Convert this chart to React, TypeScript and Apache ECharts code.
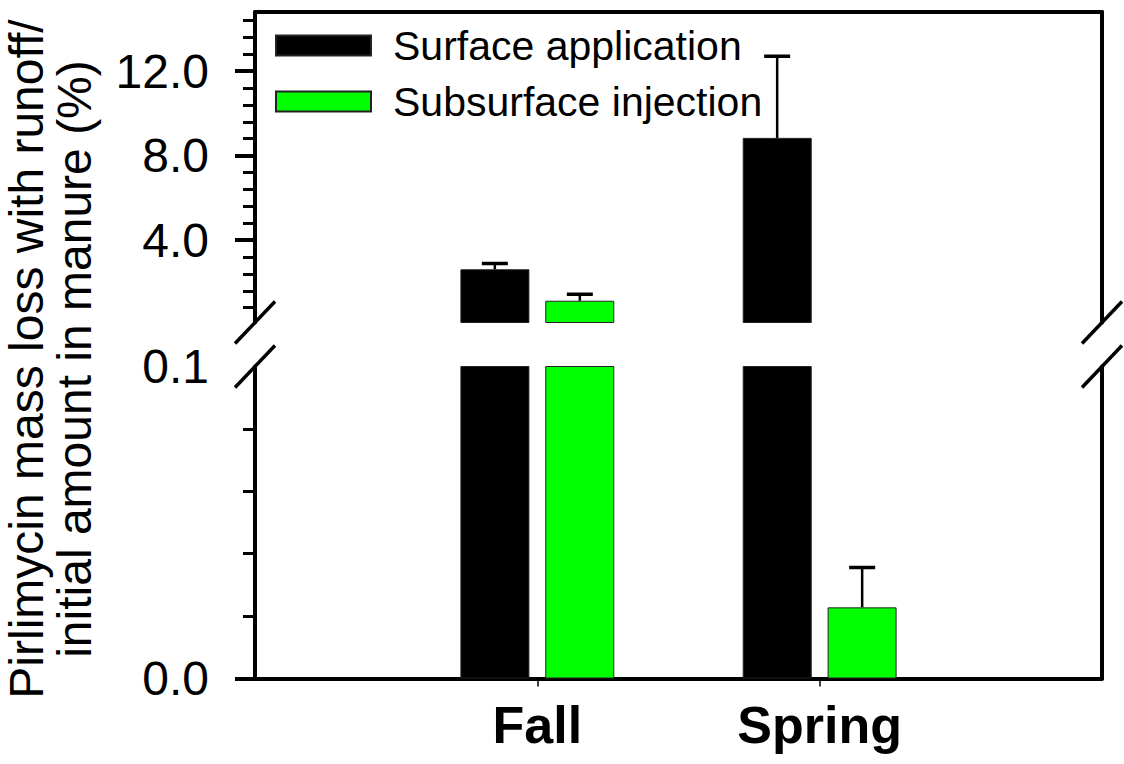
import React, { useEffect, useRef } from 'react';
import * as echarts from 'echarts';

// Seasons and the two manure treatments
const seasons = ['Fall', 'Spring'];
const seriesNames = ['Surface application', 'Subsurface injection'];

// Pirlimycin loss with runoff, % of the amount applied in manure (mean and standard error)
const surfaceMean = [2.62, 8.84];
const surfaceErr = [0.27, 3.87];
const subsurfaceMean = [1.13, 0.0228];
const subsurfaceErr = [0.31, 0.0128];

// Tick values of the broken y axis
const upperLabelTicks = [4, 8, 12];
const upperMinorTicks = [0.8, 1.6, 2.4, 3.2, 4.8, 5.6, 6.4, 7.2, 8.8, 9.6, 10.4, 11.2, 12.8, 13.6, 14.4];
const lowerLabelTicks = [0, 0.1];
const lowerMajorTicks = [0];
const lowerMinorTicks = [0.02, 0.04, 0.06, 0.08];

const BREAK_VALUE = 0.1;
const UPPER_MAX = 14.8;

// Layout (pixels)
const PLOT_LEFT = 255;
const PLOT_WIDTH = 847;
const UPPER_TOP = 12;
const UPPER_BOTTOM = 322.5;
const LOWER_TOP = 366.5;
const LOWER_BOTTOM = 678.5;
const BAR_WIDTH = 69;
const BAR_OFFSET = 42.5;
const FONT = "'Liberation Sans', Arial, Helvetica, sans-serif";

const COLORS = ['#000000', '#00ff00'];

const categories = ['', ...seasons, ''];

function padded(values: (number | string)[]) {
  return ['-', ...values, '-'];
}

function errorBars(
  name: string,
  gridIdx: number,
  yIdx: number,
  means: number[],
  errs: number[],
  offset: number,
  keep: (m: number) => boolean
) {
  const data = means
    .map((m, i) => [i + 1, m, m + errs[i]])
    .filter((d) => keep(d[1] as number));
  return {
    type: 'custom',
    name,
    xAxisIndex: gridIdx,
    yAxisIndex: yIdx,
    clip: true,
    silent: true,
    z: 5,
    encode: { x: 0, y: [1, 2] },
    data,
    renderItem: (_params: any, api: any) => {
      const top = api.coord([api.value(0), api.value(1)]);
      const hi = api.coord([api.value(0), api.value(2)]);
      const x = top[0] + offset;
      return {
        type: 'group',
        children: [
          {
            type: 'line',
            shape: { x1: x, y1: top[1], x2: x, y2: hi[1] },
            style: { stroke: '#000', lineWidth: 2.5 },
          },
          {
            type: 'line',
            shape: { x1: x - 13, y1: hi[1], x2: x + 13, y2: hi[1] },
            style: { stroke: '#000', lineWidth: 3.5 },
          },
        ],
      };
    },
  };
}

function barSeries(name: string, idx: number, xIdx: number, yIdx: number, values: number[], upper: boolean) {
  const shown = values.map((v) => (upper ? (v >= BREAK_VALUE ? v : '-') : v));
  return {
    type: 'bar',
    name,
    xAxisIndex: xIdx,
    yAxisIndex: yIdx,
    barWidth: BAR_WIDTH,
    barGap: '23%',
    clip: true,
    data: padded(shown),
    itemStyle: { color: COLORS[idx], borderColor: '#222', borderWidth: 1 },
  };
}

function breakMarks() {
  const marks: any[] = [];
  [PLOT_LEFT, PLOT_LEFT + PLOT_WIDTH].forEach((x) => {
    [UPPER_BOTTOM, LOWER_TOP].forEach((y) => {
      marks.push({
        type: 'line',
        shape: { x1: x - 20, y1: y + 21, x2: x + 20, y2: y - 21 },
        style: { stroke: '#000', lineWidth: 3.5 },
        z: 10,
      });
    });
  });
  return marks;
}

const hiddenAxisBits = {
  axisLabel: { show: false },
  axisTick: { show: false },
  splitLine: { show: false },
};

export default function App() {
  const ref = useRef<HTMLDivElement>(null);

  useEffect(() => {
    if (!ref.current) return;
    const chart = echarts.init(ref.current, undefined, { renderer: 'svg' });

    const option: any = {
      animation: false,
      backgroundColor: '#ffffff',
      textStyle: { fontFamily: FONT, color: '#000' },
      grid: [
        { left: PLOT_LEFT, top: UPPER_TOP, width: PLOT_WIDTH, height: UPPER_BOTTOM - UPPER_TOP },
        { left: PLOT_LEFT, top: LOWER_TOP, width: PLOT_WIDTH, height: LOWER_BOTTOM - LOWER_TOP },
      ],
      legend: {
        data: seriesNames,
        orient: 'vertical',
        left: 275,
        top: 25,
        padding: 0,
        itemWidth: 95,
        itemHeight: 20,
        itemGap: 15,
        icon: 'rect',
        selectedMode: false,
        textStyle: { fontSize: 41, fontFamily: FONT, color: '#000', padding: [0, 0, 0, 17] },
      },
      xAxis: [
        {
          type: 'category',
          gridIndex: 0,
          position: 'top',
          data: categories,
          boundaryGap: false,
          axisLine: { show: true, onZero: false, lineStyle: { color: '#000', width: 4 } },
          ...hiddenAxisBits,
        },
        {
          type: 'category',
          gridIndex: 1,
          position: 'bottom',
          data: categories,
          boundaryGap: false,
          axisLine: { show: true, onZero: false, lineStyle: { color: '#000', width: 4 } },
          axisTick: {
            show: true,
            length: 8,
            interval: (i: number) => i > 0 && i < categories.length - 1,
            lineStyle: { color: '#000', width: 1.5 },
          },
          axisLabel: {
            interval: 0,
            margin: 20,
            fontSize: 52,
            fontWeight: 'bold',
            fontFamily: FONT,
            color: '#000',
          },
          splitLine: { show: false },
        },
      ],
      yAxis: [
        // upper segment: labelled major ticks
        {
          type: 'value',
          gridIndex: 0,
          position: 'left',
          min: BREAK_VALUE,
          max: UPPER_MAX,
          axisLine: { show: true, onZero: false, lineStyle: { color: '#000', width: 4 } },
          axisTick: { show: true, length: 20, customValues: upperLabelTicks, lineStyle: { color: '#000', width: 4 } },
          axisLabel: {
            customValues: upperLabelTicks,
            margin: 46,
            fontSize: 48,
            fontFamily: FONT,
            color: '#000',
            formatter: (v: number) => v.toFixed(1),
          },
          splitLine: { show: false },
        },
        // upper segment: minor ticks
        {
          type: 'value',
          gridIndex: 0,
          position: 'left',
          min: BREAK_VALUE,
          max: UPPER_MAX,
          axisLine: { show: false },
          axisTick: { show: true, length: 12, customValues: upperMinorTicks, lineStyle: { color: '#000', width: 3 } },
          axisLabel: { show: false },
          splitLine: { show: false },
        },
        // upper segment: right frame
        {
          type: 'value',
          gridIndex: 0,
          position: 'right',
          min: BREAK_VALUE,
          max: UPPER_MAX,
          axisLine: { show: true, onZero: false, lineStyle: { color: '#000', width: 4 } },
          ...hiddenAxisBits,
        },
        // lower segment: labelled ticks
        {
          type: 'value',
          gridIndex: 1,
          position: 'left',
          min: 0,
          max: BREAK_VALUE,
          axisLine: { show: true, onZero: false, lineStyle: { color: '#000', width: 4 } },
          axisTick: { show: true, length: 20, customValues: lowerMajorTicks, lineStyle: { color: '#000', width: 4 } },
          axisLabel: {
            customValues: lowerLabelTicks,
            margin: 46,
            fontSize: 48,
            fontFamily: FONT,
            color: '#000',
            formatter: (v: number) => v.toFixed(1),
          },
          splitLine: { show: false },
        },
        // lower segment: minor ticks
        {
          type: 'value',
          gridIndex: 1,
          position: 'left',
          min: 0,
          max: BREAK_VALUE,
          axisLine: { show: false },
          axisTick: { show: true, length: 12, customValues: lowerMinorTicks, lineStyle: { color: '#000', width: 3 } },
          axisLabel: { show: false },
          splitLine: { show: false },
        },
        // lower segment: right frame
        {
          type: 'value',
          gridIndex: 1,
          position: 'right',
          min: 0,
          max: BREAK_VALUE,
          axisLine: { show: true, onZero: false, lineStyle: { color: '#000', width: 4 } },
          ...hiddenAxisBits,
        },
      ],
      series: [
        barSeries(seriesNames[0], 0, 0, 0, surfaceMean, true),
        barSeries(seriesNames[1], 1, 0, 0, subsurfaceMean, true),
        barSeries(seriesNames[0], 0, 1, 3, surfaceMean, false),
        barSeries(seriesNames[1], 1, 1, 3, subsurfaceMean, false),
        errorBars('surface-err-upper', 0, 0, surfaceMean, surfaceErr, -BAR_OFFSET, (m) => m >= BREAK_VALUE),
        errorBars('subsurface-err-upper', 0, 0, subsurfaceMean, subsurfaceErr, BAR_OFFSET, (m) => m >= BREAK_VALUE),
        errorBars('surface-err-lower', 1, 3, surfaceMean, surfaceErr, -BAR_OFFSET, (m) => m < BREAK_VALUE),
        errorBars('subsurface-err-lower', 1, 3, subsurfaceMean, subsurfaceErr, BAR_OFFSET, (m) => m < BREAK_VALUE),
      ],
      graphic: [
        {
          type: 'text',
          x: 50,
          y: 359,
          rotation: Math.PI / 2,
          z: 10,
          style: {
            text: 'Pirlimycin mass loss with runoff/\ninitial amount in manure (%)',
            fontSize: 48,
            fontFamily: FONT,
            fill: '#000',
            align: 'center',
            verticalAlign: 'middle',
            lineHeight: 48,
          },
        },
        ...breakMarks(),
      ],
    };

    chart.setOption(option);
    return () => chart.dispose();
  }, []);

  return (
    <div
      ref={ref}
      style={{ position: 'fixed', left: 0, top: 0, width: 1124, height: 764, background: '#fff' }}
    />
  );
}
